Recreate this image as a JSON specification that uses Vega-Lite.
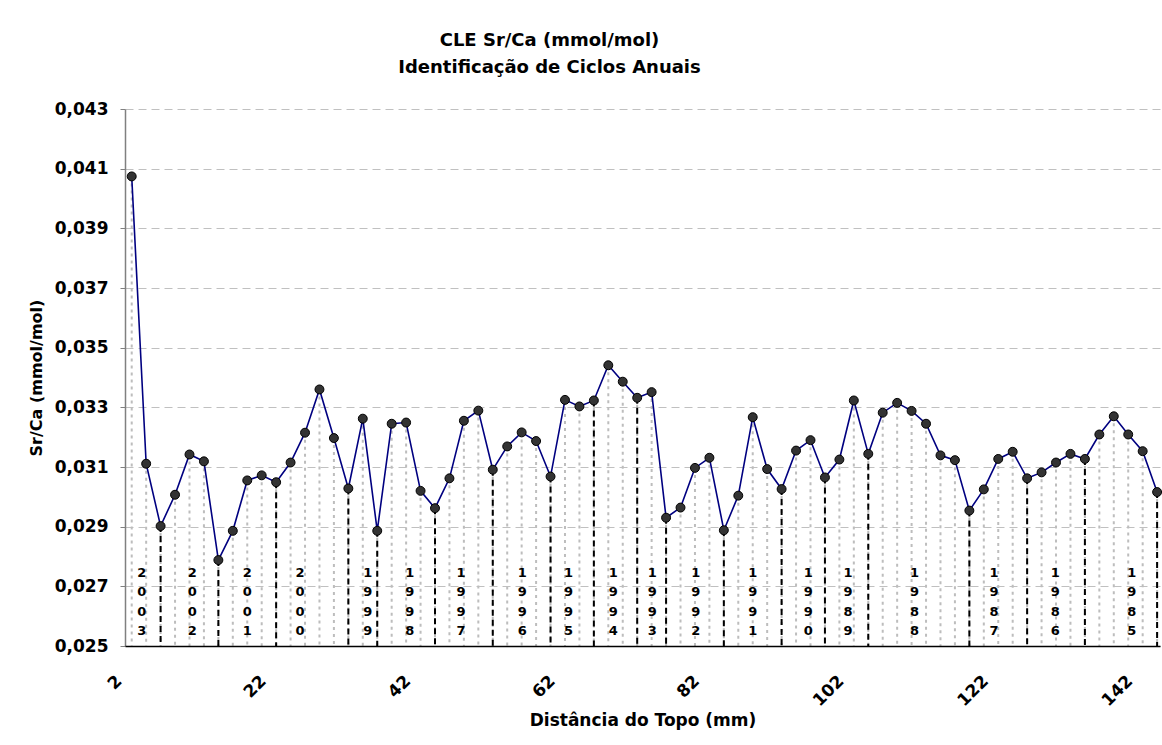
{
  "$schema": "https://vega.github.io/schema/vega-lite/v6.json",
  "width": 1035,
  "height": 537,
  "autosize": {"type": "none"},
  "padding": {"left": 125, "top": 109, "right": 2, "bottom": 99},
  "background": "white",
  "config": {
    "locale": {"number": {"decimal": ",", "thousands": ".", "grouping": [3], "currency": ["", ""]}},
    "font": "DejaVu Sans",
    "view": {"stroke": null}
  },
  "title": {
    "text": ["CLE Sr/Ca (mmol/mol)", "Identificação de Ciclos Anuais"],
    "font": "DejaVu Sans",
    "fontSize": 18,
    "fontWeight": "bold",
    "color": "#000000",
    "anchor": "middle",
    "frame": "group",
    "dx": -93,
    "offset": 23,
    "lineHeight": 27
  },
  "datasets": {
    "srca": [
      {"d": 2, "v": 0.04074, "lim": false},
      {"d": 4, "v": 0.03111, "lim": false},
      {"d": 6, "v": 0.02902, "lim": true},
      {"d": 8, "v": 0.03007, "lim": false},
      {"d": 10, "v": 0.03142, "lim": false},
      {"d": 12, "v": 0.03119, "lim": false},
      {"d": 14, "v": 0.02788, "lim": true},
      {"d": 16, "v": 0.02886, "lim": false},
      {"d": 18, "v": 0.03055, "lim": false},
      {"d": 20, "v": 0.03072, "lim": false},
      {"d": 22, "v": 0.03049, "lim": true},
      {"d": 24, "v": 0.03115, "lim": false},
      {"d": 26, "v": 0.03215, "lim": false},
      {"d": 28, "v": 0.0336, "lim": false},
      {"d": 30, "v": 0.03197, "lim": false},
      {"d": 32, "v": 0.03028, "lim": true},
      {"d": 34, "v": 0.03262, "lim": false},
      {"d": 36, "v": 0.02886, "lim": true},
      {"d": 38, "v": 0.03245, "lim": false},
      {"d": 40, "v": 0.03249, "lim": false},
      {"d": 42, "v": 0.0302, "lim": false},
      {"d": 44, "v": 0.02962, "lim": true},
      {"d": 46, "v": 0.03062, "lim": false},
      {"d": 48, "v": 0.03255, "lim": false},
      {"d": 50, "v": 0.03289, "lim": false},
      {"d": 52, "v": 0.03091, "lim": true},
      {"d": 54, "v": 0.03169, "lim": false},
      {"d": 56, "v": 0.03216, "lim": false},
      {"d": 58, "v": 0.03187, "lim": false},
      {"d": 60, "v": 0.03068, "lim": true},
      {"d": 62, "v": 0.03325, "lim": false},
      {"d": 64, "v": 0.03303, "lim": false},
      {"d": 66, "v": 0.03323, "lim": true},
      {"d": 68, "v": 0.03441, "lim": false},
      {"d": 70, "v": 0.03386, "lim": false},
      {"d": 72, "v": 0.03332, "lim": true},
      {"d": 74, "v": 0.03351, "lim": false},
      {"d": 76, "v": 0.0293, "lim": true},
      {"d": 78, "v": 0.02964, "lim": false},
      {"d": 80, "v": 0.03097, "lim": false},
      {"d": 82, "v": 0.03131, "lim": false},
      {"d": 84, "v": 0.02888, "lim": true},
      {"d": 86, "v": 0.03004, "lim": false},
      {"d": 88, "v": 0.03267, "lim": false},
      {"d": 90, "v": 0.03093, "lim": false},
      {"d": 92, "v": 0.03026, "lim": true},
      {"d": 94, "v": 0.03155, "lim": false},
      {"d": 96, "v": 0.0319, "lim": false},
      {"d": 98, "v": 0.03065, "lim": true},
      {"d": 100, "v": 0.03125, "lim": false},
      {"d": 102, "v": 0.03323, "lim": false},
      {"d": 104, "v": 0.03144, "lim": true},
      {"d": 106, "v": 0.03282, "lim": false},
      {"d": 108, "v": 0.03315, "lim": false},
      {"d": 110, "v": 0.03288, "lim": false},
      {"d": 112, "v": 0.03245, "lim": false},
      {"d": 114, "v": 0.03139, "lim": false},
      {"d": 116, "v": 0.03123, "lim": false},
      {"d": 118, "v": 0.02954, "lim": true},
      {"d": 120, "v": 0.03025, "lim": false},
      {"d": 122, "v": 0.03127, "lim": false},
      {"d": 124, "v": 0.03151, "lim": false},
      {"d": 126, "v": 0.03062, "lim": true},
      {"d": 128, "v": 0.03082, "lim": false},
      {"d": 130, "v": 0.03115, "lim": false},
      {"d": 132, "v": 0.03144, "lim": false},
      {"d": 134, "v": 0.03127, "lim": true},
      {"d": 136, "v": 0.03209, "lim": false},
      {"d": 138, "v": 0.0327, "lim": false},
      {"d": 140, "v": 0.03209, "lim": false},
      {"d": 142, "v": 0.03153, "lim": false},
      {"d": 144, "v": 0.03016, "lim": true}
    ],
    "anos": [
      {"p": 3.4, "ano": ["2", "0", "0", "3"]},
      {"p": 10.4, "ano": ["2", "0", "0", "2"]},
      {"p": 18.0, "ano": ["2", "0", "0", "1"]},
      {"p": 25.3, "ano": ["2", "0", "0", "0"]},
      {"p": 34.7, "ano": ["1", "9", "9", "9"]},
      {"p": 40.5, "ano": ["1", "9", "9", "8"]},
      {"p": 47.6, "ano": ["1", "9", "9", "7"]},
      {"p": 56.1, "ano": ["1", "9", "9", "6"]},
      {"p": 62.5, "ano": ["1", "9", "9", "5"]},
      {"p": 68.7, "ano": ["1", "9", "9", "4"]},
      {"p": 74.1, "ano": ["1", "9", "9", "3"]},
      {"p": 80.1, "ano": ["1", "9", "9", "2"]},
      {"p": 88.0, "ano": ["1", "9", "9", "1"]},
      {"p": 95.7, "ano": ["1", "9", "9", "0"]},
      {"p": 101.2, "ano": ["1", "9", "8", "9"]},
      {"p": 110.4, "ano": ["1", "9", "8", "8"]},
      {"p": 121.4, "ano": ["1", "9", "8", "7"]},
      {"p": 129.9, "ano": ["1", "9", "8", "6"]},
      {"p": 140.5, "ano": ["1", "9", "8", "5"]}
    ]
  },
  "layer": [
    {
      "data": {"name": "srca"},
      "mark": {"type": "rule", "color": "#bdbdbd", "strokeWidth": 2, "strokeDash": [3, 4]},
      "encoding": {
        "x": {
          "field": "d",
          "type": "quantitative",
          "scale": {"domain": [1.07, 144.4], "nice": false, "zero": false},
          "axis": {
            "values": [2, 22, 42, 62, 82, 102, 122, 142],
            "title": "Distância do Topo (mm)",
            "titleFont": "DejaVu Sans",
            "titleFontSize": 17,
            "titleFontWeight": "bold",
            "titleColor": "#000000",
            "titlePadding": 4,
            "labelFont": "DejaVu Sans",
            "labelFontSize": 17,
            "labelFontWeight": "bold",
            "labelColor": "#000000",
            "labelAngle": -45,
            "labelAlign": "right",
            "labelBaseline": "middle",
            "labelOffset": -13,
            "labelPadding": 32,
            "ticks": false,
            "grid": false,
            "domainColor": "#000000",
            "domainWidth": 1.5,
            "zindex": 1
          }
        },
        "y": {
          "field": "v",
          "type": "quantitative",
          "scale": {"domain": [0.025, 0.043], "nice": false, "zero": false},
          "axis": {
            "values": [0.025, 0.027, 0.029, 0.031, 0.033, 0.035, 0.037, 0.039, 0.041, 0.043],
            "format": ".3f",
            "title": "Sr/Ca (mmol/mol)",
            "titleFont": "DejaVu Sans",
            "titleFontSize": 16,
            "titleFontWeight": "bold",
            "titleColor": "#000000",
            "titlePadding": 10,
            "labelFont": "DejaVu Sans",
            "labelFontSize": 17,
            "labelFontWeight": "bold",
            "labelColor": "#000000",
            "labelPadding": 12,
            "tickSize": 5,
            "tickColor": "#808080",
            "domainColor": "#808080",
            "domainWidth": 1.5,
            "grid": true,
            "gridColor": "#c0c0c0",
            "gridDash": [8, 5],
            "gridWidth": 1
          }
        },
        "y2": {"datum": 0.025}
      }
    },
    {
      "data": {"name": "srca"},
      "transform": [{"filter": "datum.lim"}],
      "mark": {"type": "rule", "color": "#000000", "strokeWidth": 2, "strokeDash": [6, 4]},
      "encoding": {
        "x": {"field": "d", "type": "quantitative"},
        "y": {"field": "v", "type": "quantitative"},
        "y2": {"datum": 0.025}
      }
    },
    {
      "data": {"name": "srca"},
      "mark": {"type": "line", "color": "#000080", "strokeWidth": 1.6},
      "encoding": {
        "x": {"field": "d", "type": "quantitative"},
        "y": {"field": "v", "type": "quantitative"}
      }
    },
    {
      "data": {"name": "srca"},
      "mark": {"type": "point", "shape": "circle", "filled": true, "size": 80, "fill": "#333333", "stroke": "#000000", "strokeWidth": 1, "opacity": 1},
      "encoding": {
        "x": {"field": "d", "type": "quantitative"},
        "y": {"field": "v", "type": "quantitative"}
      }
    },
    {
      "data": {"name": "anos"},
      "mark": {"type": "text", "font": "DejaVu Sans", "fontSize": 13, "fontWeight": "bold", "color": "#000000", "align": "center", "baseline": "top", "lineHeight": 19.5},
      "encoding": {
        "x": {"field": "p", "type": "quantitative"},
        "y": {"datum": 0.02765},
        "text": {"field": "ano", "type": "nominal"}
      }
    }
  ]
}
